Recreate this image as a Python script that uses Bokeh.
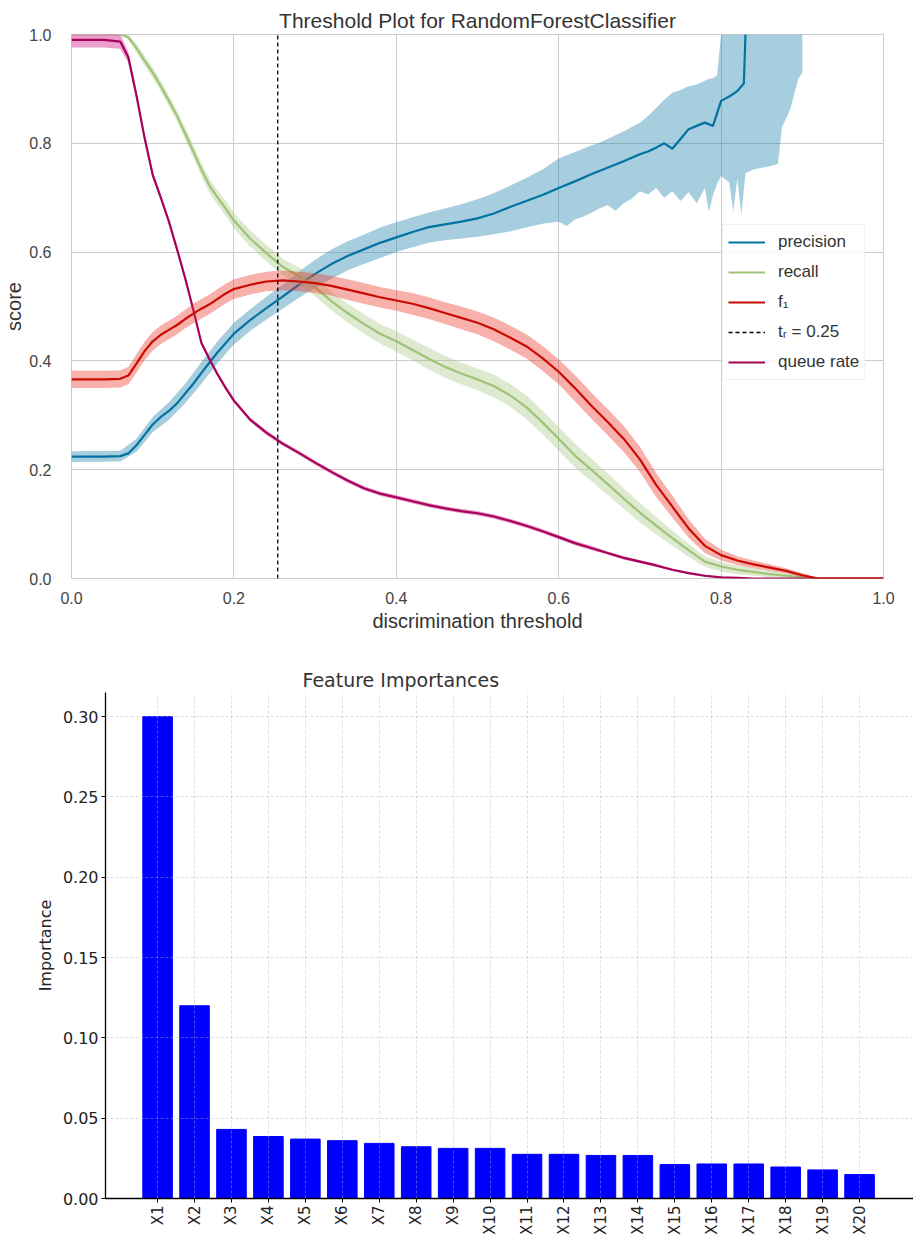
import math
import numpy as np
from bokeh.plotting import figure
from bokeh.models import (Range1d, FixedTicker, PrintfTickFormatter, Legend,
                          LegendItem)
from bokeh.embed import file_html
from bokeh.resources import INLINE

# ---------------- Threshold plot data ----------------
T = [0.00, 0.02, 0.04, 0.06, 0.07, 0.08, 0.09, 0.10, 0.11, 0.12,
     0.13, 0.14, 0.15, 0.16, 0.17, 0.18, 0.19, 0.20, 0.22, 0.24,
     0.26, 0.28, 0.30, 0.32, 0.34, 0.36, 0.38, 0.40, 0.42, 0.44,
     0.46, 0.48, 0.50, 0.52, 0.54, 0.56, 0.58, 0.60, 0.62, 0.64,
     0.66, 0.68, 0.70, 0.72, 0.74, 0.76, 0.78, 0.80, 0.82, 0.84,
     0.86, 0.88, 0.90, 0.92, 0.95, 1.00]

RECALL = [1.000, 1.000, 1.000, 1.000, 0.995, 0.975, 0.952, 0.930, 0.905, 0.878,
          0.850, 0.818, 0.785, 0.752, 0.722, 0.700, 0.680, 0.658, 0.625, 0.598,
          0.573, 0.556, 0.535, 0.510, 0.488, 0.468, 0.450, 0.436, 0.420, 0.404,
          0.389, 0.377, 0.366, 0.354, 0.337, 0.315, 0.287, 0.257, 0.226, 0.200,
          0.174, 0.147, 0.121, 0.097, 0.074, 0.052, 0.031, 0.022, 0.016, 0.012,
          0.008, 0.005, 0.002, 0.000, 0.000, 0.000]
RECALL_BAND = [0.000, 0.000, 0.000, 0.000, 0.004, 0.008, 0.010, 0.010, 0.010, 0.010,
               0.010, 0.011, 0.012, 0.012, 0.013, 0.013, 0.014, 0.014, 0.015, 0.015,
               0.015, 0.016, 0.016, 0.017, 0.017, 0.018, 0.018, 0.019, 0.019, 0.020,
               0.020, 0.020, 0.020, 0.021, 0.021, 0.022, 0.022, 0.022, 0.022, 0.021,
               0.020, 0.019, 0.018, 0.016, 0.014, 0.012, 0.010, 0.009, 0.008, 0.007,
               0.006, 0.005, 0.003, 0.000, 0.000, 0.000]

F1 = [0.366, 0.366, 0.366, 0.367, 0.373, 0.395, 0.418, 0.436, 0.448, 0.457,
      0.466, 0.477, 0.487, 0.496, 0.504, 0.514, 0.524, 0.532, 0.540, 0.546,
      0.548, 0.546, 0.543, 0.538, 0.531, 0.524, 0.517, 0.511, 0.505, 0.497,
      0.488, 0.479, 0.470, 0.458, 0.443, 0.427, 0.405, 0.380, 0.350, 0.318,
      0.288, 0.257, 0.219, 0.172, 0.132, 0.092, 0.060, 0.043, 0.033, 0.026,
      0.020, 0.014, 0.006, 0.000, 0.000, 0.000]
F1_BAND = [0.016, 0.016, 0.016, 0.016, 0.016, 0.017, 0.017, 0.017, 0.017, 0.017,
           0.017, 0.017, 0.018, 0.018, 0.018, 0.018, 0.018, 0.018, 0.018, 0.018,
           0.018, 0.018, 0.018, 0.018, 0.019, 0.019, 0.019, 0.019, 0.020, 0.020,
           0.020, 0.021, 0.021, 0.022, 0.022, 0.022, 0.023, 0.023, 0.024, 0.024,
           0.024, 0.024, 0.023, 0.022, 0.020, 0.017, 0.013, 0.010, 0.008, 0.007,
           0.006, 0.005, 0.004, 0.000, 0.000, 0.000]

QUEUE = [0.990, 0.990, 0.990, 0.987, 0.958, 0.888, 0.810, 0.742, 0.700, 0.656,
         0.605, 0.552, 0.494, 0.433, 0.403, 0.375, 0.350, 0.327, 0.292, 0.268,
         0.248, 0.231, 0.213, 0.196, 0.180, 0.166, 0.156, 0.149, 0.142, 0.135,
         0.129, 0.124, 0.120, 0.114, 0.106, 0.097, 0.087, 0.076, 0.065, 0.056,
         0.047, 0.038, 0.031, 0.024, 0.016, 0.010, 0.005, 0.002, 0.001, 0.000,
         0.000, 0.000, 0.000, 0.000, 0.000, 0.000]
QUEUE_BAND = [0.014, 0.014, 0.014, 0.013, 0.010, 0.008, 0.007, 0.006, 0.005, 0.005,
              0.005, 0.005, 0.005, 0.004, 0.004, 0.004, 0.004, 0.004, 0.004, 0.004,
              0.004, 0.004, 0.004, 0.004, 0.004, 0.004, 0.004, 0.004, 0.004, 0.004,
              0.004, 0.004, 0.004, 0.004, 0.004, 0.004, 0.004, 0.004, 0.004, 0.004,
              0.003, 0.003, 0.003, 0.003, 0.002, 0.002, 0.002, 0.001, 0.001, 0.000,
              0.000, 0.000, 0.000, 0.000, 0.000, 0.000]

PREC_T = [0.00, 0.02, 0.04, 0.06, 0.07, 0.08, 0.09, 0.10, 0.11, 0.12,
          0.13, 0.14, 0.15, 0.16, 0.17, 0.18, 0.19, 0.20, 0.22, 0.24,
          0.26, 0.28, 0.30, 0.32, 0.34, 0.36, 0.38, 0.40, 0.42, 0.44,
          0.46, 0.48, 0.50, 0.52, 0.54, 0.56, 0.58, 0.60, 0.62, 0.64,
          0.66, 0.68, 0.70, 0.71, 0.72, 0.73, 0.74, 0.75, 0.76, 0.77,
          0.78, 0.79, 0.80, 0.81, 0.82, 0.828, 0.830]
PRECISION = [0.224, 0.224, 0.224, 0.225, 0.230, 0.245, 0.264, 0.283, 0.297, 0.308,
             0.322, 0.340, 0.358, 0.378, 0.397, 0.416, 0.433, 0.450, 0.475, 0.497,
             0.518, 0.540, 0.560, 0.578, 0.593, 0.605, 0.617, 0.627, 0.637, 0.646,
             0.651, 0.656, 0.662, 0.671, 0.683, 0.694, 0.705, 0.718, 0.730, 0.743,
             0.755, 0.767, 0.780, 0.785, 0.792, 0.800, 0.790, 0.808, 0.826, 0.832,
             0.838, 0.832, 0.878, 0.886, 0.896, 0.910, 1.000]

PREC_BAND_T = [0.00, 0.06, 0.08, 0.10, 0.12, 0.14, 0.16, 0.18, 0.20, 0.22,
               0.24, 0.26, 0.28, 0.30, 0.32, 0.34, 0.36, 0.38, 0.40, 0.42,
               0.44, 0.46, 0.48, 0.50, 0.52, 0.54, 0.56, 0.58, 0.60, 0.61,
               0.62, 0.63, 0.64, 0.65, 0.66, 0.67, 0.68, 0.69, 0.70, 0.71,
               0.72, 0.73, 0.74, 0.75, 0.76, 0.77, 0.78, 0.785, 0.79, 0.795,
               0.80, 0.81, 0.815, 0.82, 0.825, 0.83, 0.84, 0.85, 0.86, 0.87,
               0.875, 0.88, 0.885, 0.89, 0.895, 0.90]
PREC_UPPER = [0.234, 0.235, 0.257, 0.297, 0.324, 0.358, 0.398, 0.436, 0.470, 0.495,
              0.518, 0.540, 0.564, 0.586, 0.605, 0.620, 0.632, 0.645, 0.655, 0.664,
              0.673, 0.680, 0.688, 0.697, 0.708, 0.722, 0.736, 0.752, 0.772, 0.778,
              0.784, 0.790, 0.796, 0.801, 0.808, 0.815, 0.822, 0.830, 0.838, 0.850,
              0.865, 0.880, 0.893, 0.898, 0.905, 0.908, 0.915, 0.918, 0.920, 0.925,
              1.000, 1.000, 1.000, 1.000, 1.000, 1.000, 1.000, 1.000, 1.000, 1.000,
              1.000, 1.000, 1.000, 1.000, 1.000, 1.000]
PREC_LOWER = [0.214, 0.215, 0.233, 0.269, 0.292, 0.322, 0.358, 0.396, 0.430, 0.455,
              0.476, 0.496, 0.516, 0.534, 0.551, 0.566, 0.578, 0.589, 0.600, 0.609,
              0.617, 0.622, 0.625, 0.628, 0.633, 0.638, 0.645, 0.652, 0.656, 0.648,
              0.660, 0.665, 0.672, 0.680, 0.686, 0.676, 0.690, 0.698, 0.712, 0.706,
              0.718, 0.700, 0.712, 0.694, 0.710, 0.690, 0.718, 0.674, 0.705, 0.725,
              0.740, 0.728, 0.675, 0.735, 0.668, 0.745, 0.752, 0.755, 0.758, 0.762,
              0.830, 0.845, 0.862, 0.890, 0.918, 0.930]

THRESHOLD = 0.254

X_TICKS = [0.0, 0.2, 0.4, 0.6, 0.8, 1.0]
Y_TICKS = [0.0, 0.2, 0.4, 0.6, 0.8, 1.0]

# ---------------- Feature importance data ----------------
FEATURES = ["X1", "X2", "X3", "X4", "X5", "X6", "X7", "X8", "X9", "X10",
            "X11", "X12", "X13", "X14", "X15", "X16", "X17", "X18", "X19", "X20"]
IMPORTANCES = [0.300, 0.120, 0.043, 0.0386, 0.037, 0.036, 0.0343, 0.0322, 0.0312, 0.0312,
               0.0275, 0.0275, 0.0268, 0.0268, 0.0211, 0.0215, 0.0215, 0.0196, 0.0178, 0.0149]
IMP_TICKS = [0.00, 0.05, 0.10, 0.15, 0.20, 0.25, 0.30]

# ---------------- colours ----------------
C_PREC = "#0272a2"
C_REC = "#9fc377"
C_F1 = "#ca0b03"
C_QUEUE = "#a50258"
BAND_ALPHA = 0.35

TOP_FONT = "Liberation Sans"
BOT_FONT = "DejaVu Sans"

# ================= Top figure =================
p1 = figure(width=913, height=638, output_backend="svg", toolbar_location=None,
            x_range=Range1d(0, 1), y_range=Range1d(0, 1),
            min_border_left=71, min_border_right=30, min_border_top=34,
            min_border_bottom=60,
            title="Threshold Plot for RandomForestClassifier")
p1.title.align = "center"
p1.title.text_font = TOP_FONT
p1.title.text_font_size = "21px"
p1.title.text_font_style = "normal"
p1.title.text_color = "#333333"
p1.title.standoff = 6
p1.outline_line_color = "#cccccc"
p1.background_fill_color = "white"

for ax in (p1.xaxis[0], p1.yaxis[0]):
    ax.axis_line_color = None
    ax.major_tick_line_color = None
    ax.minor_tick_line_color = None
    ax.major_label_text_font = TOP_FONT
    ax.major_label_text_font_size = "16px"
    ax.major_label_text_color = "#444444"
    ax.axis_label_text_font = TOP_FONT
    ax.axis_label_text_font_size = "20px"
    ax.axis_label_text_font_style = "normal"
    ax.axis_label_text_color = "#333333"
    ax.formatter = PrintfTickFormatter(format="%.1f")

p1.xaxis.ticker = FixedTicker(ticks=X_TICKS)
p1.yaxis.ticker = FixedTicker(ticks=Y_TICKS)
p1.xaxis.axis_label = "discrimination threshold"
p1.yaxis.axis_label = "score"
p1.xaxis.major_label_standoff = 7
p1.yaxis.major_label_standoff = 14
p1.xaxis.axis_label_standoff = 3
p1.yaxis.axis_label_standoff = 1

for g in (p1.xgrid[0], p1.ygrid[0]):
    g.grid_line_color = "#cccccc"
    g.grid_line_width = 1
    g.ticker = FixedTicker(ticks=X_TICKS)

tv = np.array(T)
pt = np.array(PREC_T)
pbt = np.array(PREC_BAND_T)

# bands and lines
p1.varea(x=pbt, y1=np.array(PREC_LOWER), y2=np.array(PREC_UPPER),
         fill_color=C_PREC, fill_alpha=BAND_ALPHA)
r_prec = p1.line(pt, np.array(PRECISION), line_color=C_PREC, line_width=2.2)

p1.varea(x=tv, y1=np.array(RECALL) - np.array(RECALL_BAND),
         y2=np.array(RECALL) + np.array(RECALL_BAND),
         fill_color=C_REC, fill_alpha=BAND_ALPHA)
r_rec = p1.line(tv, np.array(RECALL), line_color=C_REC, line_width=2.2)

p1.varea(x=tv, y1=np.array(QUEUE) - np.array(QUEUE_BAND),
         y2=np.array(QUEUE) + np.array(QUEUE_BAND),
         fill_color="#d9409a", fill_alpha=0.5)
r_queue = p1.line(tv, np.array(QUEUE), line_color=C_QUEUE, line_width=2.2)

p1.varea(x=tv, y1=np.array(F1) - np.array(F1_BAND),
         y2=np.array(F1) + np.array(F1_BAND),
         fill_color="#ee3a2e", fill_alpha=BAND_ALPHA + 0.05)
r_f1 = p1.line(tv, np.array(F1), line_color=C_F1, line_width=2.2)

r_dash = p1.line(x=[THRESHOLD, THRESHOLD], y=[Y_TICKS[0], Y_TICKS[-1]],
                 line_color="black", line_dash="4 3", line_width=1.3)

legend = Legend(items=[
    LegendItem(label="precision", renderers=[r_prec]),
    LegendItem(label="recall", renderers=[r_rec]),
    LegendItem(label="f\u2081", renderers=[r_f1]),
    LegendItem(label="t\u1d63 = {:0.2f}".format(THRESHOLD), renderers=[r_dash]),
    LegendItem(label="queue rate", renderers=[r_queue]),
], location=(651, 198))
legend.label_text_font = TOP_FONT
legend.label_text_font_size = "17px"
legend.label_text_color = "#333333"
legend.glyph_width = 37
legend.glyph_height = 22
legend.label_height = 24
legend.spacing = 6
legend.padding = 5
legend.margin = 0
legend.label_standoff = 13
legend.border_line_color = "#e6e6e6"
legend.background_fill_alpha = 0.85
p1.add_layout(legend)

# ================= Bottom figure =================
p2 = figure(width=913, height=600, output_backend="svg", toolbar_location=None,
            x_range=Range1d(-1.41, 20.46), y_range=Range1d(0, 0.315),
            min_border_left=105, min_border_right=0, min_border_top=54,
            min_border_bottom=40, title="Feature Importances")
p2.title.align = "left"
p2.title.offset = 197
p2.title.text_font = BOT_FONT
p2.title.text_font_size = "19px"
p2.title.text_font_style = "normal"
p2.title.text_color = "#333333"
p2.title.standoff = 3
p2.outline_line_color = None

xpos = list(range(len(FEATURES)))
p2.vbar(x=xpos, top=IMPORTANCES, width=0.8, fill_color="#0000ff",
        line_color="#0000ff")

p2.xaxis.ticker = FixedTicker(ticks=xpos)
p2.xaxis.major_label_overrides = {i: f for i, f in zip(xpos, FEATURES)}
p2.xaxis.major_label_orientation = math.pi / 2
p2.yaxis.ticker = FixedTicker(ticks=IMP_TICKS)
p2.yaxis.formatter = PrintfTickFormatter(format="%.2f")
p2.yaxis.axis_label = "Importance"

for ax in (p2.xaxis[0], p2.yaxis[0]):
    ax.axis_line_color = "black"
    ax.axis_line_width = 1.3
    ax.major_tick_line_color = "black"
    ax.major_tick_out = 4
    ax.major_tick_in = 0
    ax.minor_tick_line_color = None
    ax.major_label_text_font = BOT_FONT
    ax.major_label_text_font_size = "15px"
    ax.major_label_text_color = "#222222"
    ax.axis_label_text_font = BOT_FONT
    ax.axis_label_text_font_size = "16px"
    ax.axis_label_text_font_style = "normal"
    ax.axis_label_text_color = "#222222"
p2.yaxis.major_label_text_font_size = "16px"
p2.yaxis.major_label_standoff = 3
p2.xaxis.major_label_standoff = 3
p2.yaxis.axis_label_standoff = 5

for g in (p2.xgrid[0], p2.ygrid[0]):
    g.grid_line_color = "#b0b0b0"
    g.grid_line_alpha = 0.55
    g.grid_line_width = 0.8
    g.grid_line_dash = "3 2"
    g.level = "overlay"
p2.xgrid.ticker = FixedTicker(ticks=xpos)
p2.ygrid.ticker = FixedTicker(ticks=IMP_TICKS)

open("out.html", "w").write(file_html([p1, p2], INLINE))
